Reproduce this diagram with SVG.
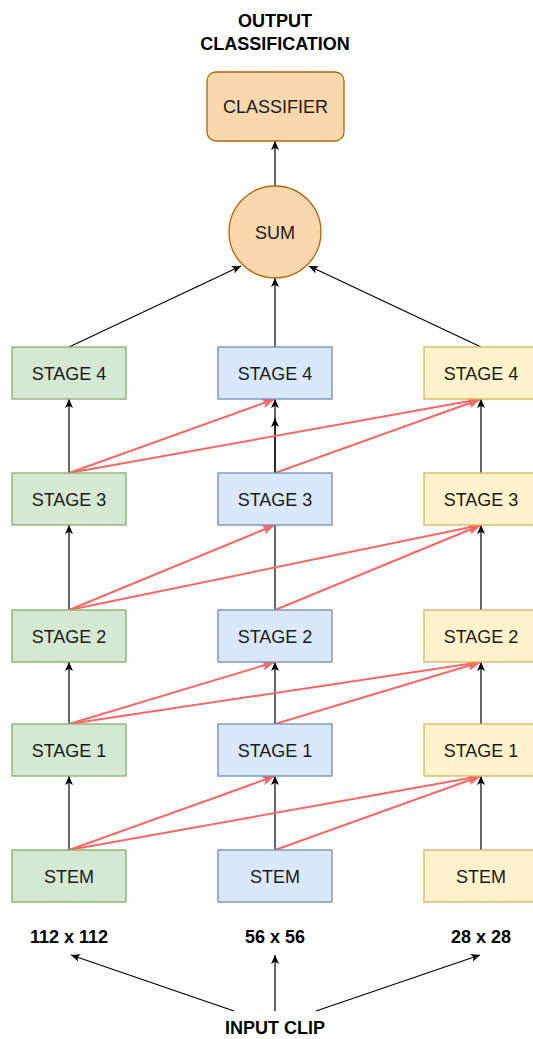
<svg xmlns="http://www.w3.org/2000/svg" width="533" height="1039" viewBox="0 0 533 1039">
<style>
text{font-family:"Liberation Sans",Arial,sans-serif;font-size:18px;fill:#1a1a1a;text-anchor:middle}
.b{font-weight:bold;fill:#000}
.g{fill:#d5e8d4;stroke:#82b366;stroke-width:1.3}
.u{fill:#dae8fc;stroke:#6c8ebf;stroke-width:1.3}
.y{fill:#fff2cc;stroke:#d6b656;stroke-width:1.3}
.o{fill:#fad7ac;stroke:#b46504;stroke-width:1.3}
.k{stroke:#000;stroke-width:1.2;fill:none;marker-end:url(#ak)}
.kn{stroke:#000;stroke-width:1.2;fill:none}
.r{stroke:#ff6666;stroke-width:2;fill:none;marker-end:url(#ar)}
</style>
<defs>
<marker id="ak" markerUnits="userSpaceOnUse" markerWidth="9" markerHeight="8" refX="9" refY="4" orient="auto" viewBox="0 0 9 8">
<path d="M0,0 L9,4 L0,8 L2.2,4 Z" fill="#000"/>
</marker>
<marker id="ar" markerUnits="userSpaceOnUse" markerWidth="13" markerHeight="10" refX="13" refY="5" orient="auto" viewBox="0 0 13 10">
<path d="M0,0 L13,5 L0,10 L3,5 Z" fill="#ff6666"/>
</marker>
</defs>
<g id="connectors">
<line class="k" x1="275" y1="187" x2="275" y2="141"/>
<line class="k" x1="69" y1="347" x2="241" y2="266"/>
<line class="k" x1="275" y1="347" x2="275" y2="278"/>
<line class="k" x1="481" y1="347" x2="309" y2="266"/>
<line class="k" x1="69" y1="850" x2="69" y2="776"/>
<line class="k" x1="69" y1="724" x2="69" y2="662"/>
<line class="k" x1="69" y1="610" x2="69" y2="525"/>
<line class="k" x1="69" y1="473" x2="69" y2="399"/>
<line class="k" x1="275" y1="850" x2="275" y2="776"/>
<line class="k" x1="275" y1="724" x2="275" y2="662"/>
<line class="k" x1="275" y1="610" x2="275" y2="418"/>
<line class="k" x1="275" y1="473" x2="275" y2="399"/>
<line class="k" x1="481" y1="850" x2="481" y2="776"/>
<line class="k" x1="481" y1="724" x2="481" y2="662"/>
<line class="k" x1="481" y1="610" x2="481" y2="525"/>
<line class="k" x1="481" y1="473" x2="481" y2="399"/>
<line class="r" x1="69" y1="850" x2="275" y2="776"/>
<line class="r" x1="69" y1="850" x2="481" y2="776"/>
<line class="r" x1="275" y1="850" x2="481" y2="776"/>
<line class="r" x1="69" y1="724" x2="275" y2="662"/>
<line class="r" x1="69" y1="724" x2="481" y2="662"/>
<line class="r" x1="275" y1="724" x2="481" y2="662"/>
<line class="r" x1="69" y1="610" x2="275" y2="525"/>
<line class="r" x1="69" y1="610" x2="481" y2="525"/>
<line class="r" x1="275" y1="610" x2="481" y2="525"/>
<line class="r" x1="69" y1="473" x2="275" y2="399"/>
<line class="r" x1="69" y1="473" x2="481" y2="399"/>
<line class="r" x1="275" y1="473" x2="481" y2="399"/>
<line class="k" x1="234" y1="1011" x2="71" y2="955"/>
<line class="k" x1="275" y1="1011" x2="275" y2="955"/>
<line class="k" x1="316" y1="1011" x2="480" y2="955"/>
</g>
<g id="title"><text class="b" x="275" y="27">OUTPUT</text><text class="b" x="275" y="50">CLASSIFICATION</text></g>
<g id="classifier"><rect class="o" x="207" y="72" width="137" height="69" rx="9"/><text x="275.5" y="113">CLASSIFIER</text></g>
<g id="sum"><circle class="o" cx="275" cy="232" r="46"/><text x="275" y="239">SUM</text></g>
<g id="g4"><rect class="g" x="12" y="347" width="114" height="52"/><text x="69" y="380">STAGE 4</text></g>
<g id="b4"><rect class="u" x="218" y="347" width="114" height="52"/><text x="275" y="380">STAGE 4</text></g>
<g id="y4"><rect class="y" x="424" y="347" width="114" height="52"/><text x="481" y="380">STAGE 4</text></g>
<g id="g3"><rect class="g" x="12" y="473" width="114" height="52"/><text x="69" y="506">STAGE 3</text></g>
<g id="b3"><rect class="u" x="218" y="473" width="114" height="52"/><text x="275" y="506">STAGE 3</text></g>
<g id="y3"><rect class="y" x="424" y="473" width="114" height="52"/><text x="481" y="506">STAGE 3</text></g>
<g id="g2"><rect class="g" x="12" y="610" width="114" height="52"/><text x="69" y="643">STAGE 2</text></g>
<g id="b2"><rect class="u" x="218" y="610" width="114" height="52"/><text x="275" y="643">STAGE 2</text></g>
<g id="y2"><rect class="y" x="424" y="610" width="114" height="52"/><text x="481" y="643">STAGE 2</text></g>
<g id="g1"><rect class="g" x="12" y="724" width="114" height="52"/><text x="69" y="757">STAGE 1</text></g>
<g id="b1"><rect class="u" x="218" y="724" width="114" height="52"/><text x="275" y="757">STAGE 1</text></g>
<g id="y1"><rect class="y" x="424" y="724" width="114" height="52"/><text x="481" y="757">STAGE 1</text></g>
<g id="g0"><rect class="g" x="12" y="850" width="114" height="52"/><text x="69" y="883">STEM</text></g>
<g id="b0"><rect class="u" x="218" y="850" width="114" height="52"/><text x="275" y="883">STEM</text></g>
<g id="y0"><rect class="y" x="424" y="850" width="114" height="52"/><text x="481" y="883">STEM</text></g>
<g id="res112"><text class="b" x="69" y="943">112 x 112</text></g>
<g id="res56"><text class="b" x="275" y="943">56 x 56</text></g>
<g id="res28"><text class="b" x="481" y="943">28 x 28</text></g>
<g id="input"><text class="b" x="275" y="1034">INPUT CLIP</text></g>
</svg>
